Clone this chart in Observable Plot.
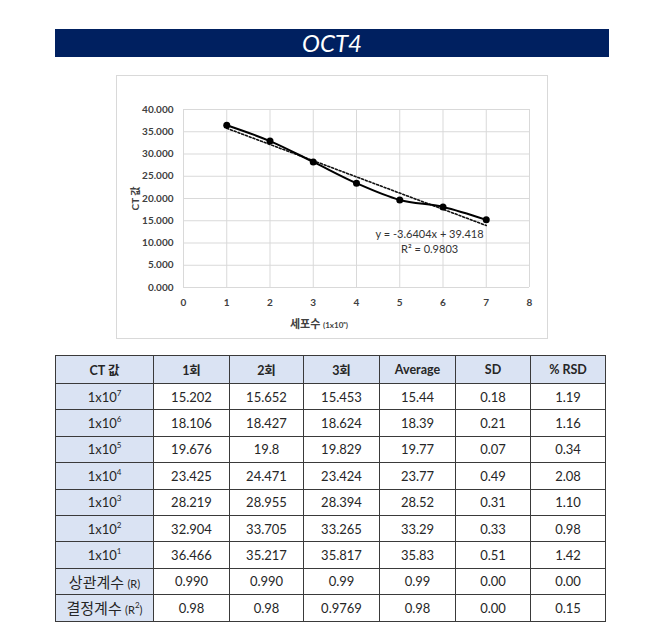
<!DOCTYPE html>
<html><head><meta charset="utf-8">
<script src="https://cdn.jsdelivr.net/npm/d3@7"></script>
<script src="https://cdn.jsdelivr.net/npm/@observablehq/plot@0.6"></script>
<style>
body{margin:0;background:#fff;font-family:Lato,"Noto Sans CJK KR",sans-serif;}
#page{position:relative;width:670px;height:627px;overflow:hidden;background:#fff;}
#title{position:absolute;left:55px;top:29px;width:554px;height:28px;background:#002060;color:#fff;font-style:italic;font-size:24px;text-align:center;line-height:28px;}
#frame{position:absolute;left:116px;top:75px;width:430px;height:262px;border:1px solid #d9d9d9;}
#chart{position:absolute;left:0;top:0;}
#xlabel{position:absolute;left:0;width:430px;top:239px;text-align:center;font-size:11px;font-weight:bold;color:#404040;padding-right:26px;box-sizing:border-box;}
#xlabel small{font-size:8px;}
table{position:absolute;left:55px;top:355px;border-collapse:collapse;table-layout:fixed;font-size:13px;color:#262626;}
td,th{border:1px solid #3a3a3a;text-align:center;padding:0;height:25.4px;}
th{background:#dae3f3;font-weight:bold;height:27px;font-size:12.5px;}
td.rh{background:#dae3f3;}
td.rh .kr{font-size:15px;}
td.rh .p{font-size:11px;}
sup{font-size:8px;vertical-align:6px;line-height:0;}
</style>
</head><body>
<div id="page">
  <div id="title">OCT4</div>
  <div id="frame"><div id="chart"></div><div id="xlabel">세포수 <small>(1x10ⁿ)</small></div></div>
  <table id="tbl"></table>
</div>
<script>
// chart data (1회 series, plotted by log10 dilution index)
const xVals = [1, 2, 3, 4, 5, 6, 7];
const yVals = [36.466, 32.904, 28.219, 23.425, 19.676, 18.106, 15.202];
const xTicks = [0, 1, 2, 3, 4, 5, 6, 7, 8];
const yTicks = [0, 5, 10, 15, 20, 25, 30, 35, 40];
const eqText = ["y = -3.6404x + 39.418", "R² = 0.9803"];
const eqX = [5.69, 5.69];
const eqY = [11.9, 8.5];

// table data
const headers = ["CT 값", "1회", "2회", "3회", "Average", "SD", "% RSD"];
const rowLabels = ["1x10<sup>7</sup>", "1x10<sup>6</sup>", "1x10<sup>5</sup>", "1x10<sup>4</sup>", "1x10<sup>3</sup>", "1x10<sup>2</sup>", "1x10<sup>1</sup>",
  "<span class='kr'>상관계수</span> <span class='p'>(R)</span>", "<span class='kr'>결정계수</span> <span class='p'>(R<sup>2</sup>)</span>"];
const run1 = ["15.202", "18.106", "19.676", "23.425", "28.219", "32.904", "36.466", "0.990", "0.98"];
const run2 = ["15.652", "18.427", "19.8", "24.471", "28.955", "33.705", "35.217", "0.990", "0.98"];
const run3 = ["15.453", "18.624", "19.829", "23.424", "28.394", "33.265", "35.817", "0.99", "0.9769"];
const avg = ["15.44", "18.39", "19.77", "23.77", "28.52", "33.29", "35.83", "0.99", "0.98"];
const sd = ["0.18", "0.21", "0.07", "0.49", "0.31", "0.33", "0.51", "0.00", "0.00"];
const rsd = ["1.19", "1.16", "0.34", "2.08", "1.10", "0.98", "1.42", "0.00", "0.15"];
const colWidths = [98, 76, 74, 76, 76, 75, 75];

const data = xVals.map((x, i) => ({x, y: yVals[i]}));
const eq = eqText.map((t, i) => ({text: t, x: eqX[i], y: eqY[i]}));
const font = "Lato, 'Noto Sans CJK KR', sans-serif";

const chart = Plot.plot({
  width: 430, height: 262,
  marginLeft: 66, marginRight: 18, marginTop: 33, marginBottom: 51,
  style: {fontFamily: font, fontSize: "10px", color: "#404040", background: "transparent", overflow: "visible"},
  x: {domain: [0, 8]},
  y: {domain: [0, 40]},
  marks: [
    Plot.gridX(xTicks, {stroke: "#d9d9d9", strokeOpacity: 1}),
    Plot.gridY(yTicks, {stroke: "#d9d9d9", strokeOpacity: 1}),
    Plot.axisX(xTicks, {tickSize: 0, tickPadding: 11, label: null, fontWeight: "bold"}),
    Plot.axisY(yTicks, {tickSize: 0, tickPadding: 10, tickFormat: d3.format(".3f"), fontWeight: "bold",
      label: "CT 값", labelAnchor: "center", labelArrow: "none", labelOffset: 52}),
    Plot.linearRegressionY(data, {x: "x", y: "y", ci: 0, stroke: "#111", strokeWidth: 1.6, strokeDasharray: "2,2"}),
    Plot.line(data, {x: "x", y: "y", curve: "catmull-rom", stroke: "#000", strokeWidth: 2}),
    Plot.dot(data, {x: "x", y: "y", r: 3.5, fill: "#000"}),
    Plot.text(eq, {x: "x", y: "y", text: "text", fontSize: 11, fill: "#333", textAnchor: "middle"})
  ]
});
document.getElementById("chart").appendChild(chart);

// build table
const tbl = document.getElementById("tbl");
const cg = document.createElement("colgroup");
colWidths.forEach(w => { const c = document.createElement("col"); c.style.width = w + "px"; cg.appendChild(c); });
tbl.appendChild(cg);
const hr = document.createElement("tr");
headers.forEach(h => { const th = document.createElement("th"); th.textContent = h; hr.appendChild(th); });
tbl.appendChild(hr);
rowLabels.forEach((lab, i) => {
  const tr = document.createElement("tr");
  const td0 = document.createElement("td"); td0.className = "rh"; td0.innerHTML = lab; tr.appendChild(td0);
  [run1, run2, run3, avg, sd, rsd].forEach(col => { const td = document.createElement("td"); td.textContent = col[i]; tr.appendChild(td); });
  tbl.appendChild(tr);
});
</script>
</body></html>
